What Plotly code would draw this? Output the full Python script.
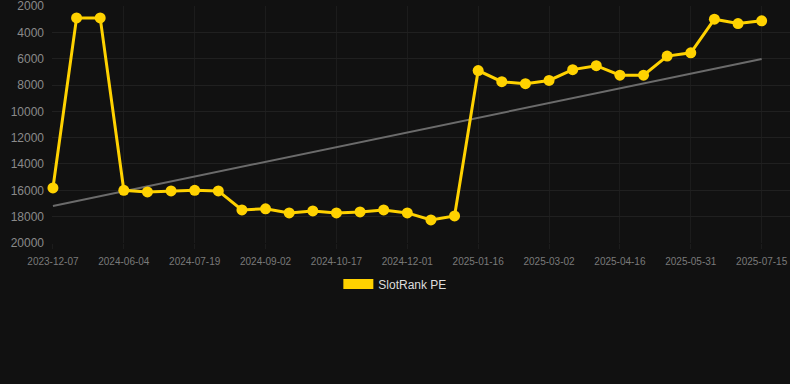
import plotly.graph_objects as go

dates = [
    "2023-12-07", "2024-02-05", "2024-04-05", "2024-06-04", "2024-06-19",
    "2024-07-04", "2024-07-19", "2024-08-03", "2024-08-18", "2024-09-02",
    "2024-09-17", "2024-10-02", "2024-10-17", "2024-11-01", "2024-11-16",
    "2024-12-01", "2024-12-16", "2025-01-01", "2025-01-16", "2025-01-31",
    "2025-02-15", "2025-03-02", "2025-03-17", "2025-04-01", "2025-04-16",
    "2025-05-01", "2025-05-16", "2025-05-31", "2025-06-15", "2025-06-30",
    "2025-07-15",
]
rank = [
    15820, 2900, 2900, 16000, 16120, 16050, 16000, 16050, 17490, 17410,
    17720, 17570, 17720, 17640, 17490, 17720, 18250, 17950, 6900, 7750,
    7900, 7650, 6830, 6530, 7250, 7250, 5800, 5550, 3000, 3330, 3120,
]
trend_dates = [dates[0], dates[-1]]
trend_values = [17190, 6020]
tick_labels = dates[::3]
y_ticks = [2000, 4000, 6000, 8000, 10000, 12000, 14000, 16000, 18000, 20000]

YELLOW = "#FFD200"

fig = go.Figure()
fig.add_trace(go.Scatter(
    x=trend_dates, y=trend_values, mode="lines",
    line=dict(color="#6b6b6b", width=2), showlegend=False, hoverinfo="skip",
))
fig.add_trace(go.Scatter(
    x=dates, y=rank, mode="lines+markers", name="SlotRank PE",
    line=dict(color=YELLOW, width=3),
    marker=dict(color=YELLOW, size=11),
    showlegend=False, cliponaxis=False,
))
fig.add_trace(go.Scatter(
    x=[None], y=[None], mode="lines", name="SlotRank PE",
    line=dict(color=YELLOW, width=14), showlegend=True,
))

fig.update_layout(
    width=790, height=384,
    paper_bgcolor="#111111", plot_bgcolor="#111111",
    margin=dict(l=52, r=0, t=6, b=141),
    font=dict(family="Liberation Sans, Arial, sans-serif"),
    legend=dict(
        orientation="h", x=0.388, xanchor="left", y=-0.173, yanchor="middle",
        font=dict(size=12, color="#dddddd"), bgcolor="rgba(0,0,0,0)",
    ),
    xaxis=dict(
        type="category", categoryorder="array", categoryarray=dates,
        range=[-0.04, 31.2],
        tickmode="array", tickvals=tick_labels, ticktext=tick_labels,
        tickangle=0, ticklabelstandoff=4, ticklabeloverflow="allow",
        tickfont=dict(size=10, color="#7a7a7a"),
        showgrid=True, gridcolor="#1c1c1c", gridwidth=1,
        zeroline=False, showline=False,
        ticks="outside", ticklen=5, tickcolor="#1c1c1c", tickwidth=1,
    ),
    yaxis=dict(
        range=[20005, 1995], tickmode="array", tickvals=y_ticks,
        ticktext=[str(v) for v in y_ticks],
        ticklabelstandoff=7, ticklabeloverflow="allow",
        tickfont=dict(size=12, color="#8a8a8a"),
        showgrid=True, gridcolor="#202020", gridwidth=1,
        zeroline=False, showline=False, ticks="", ticklen=0,
    ),
)

fig.write_html(
    "out.html",
    config={"displayModeBar": False},
    post_script="document.body.style.margin='0';document.body.style.background='#111111';",
)
